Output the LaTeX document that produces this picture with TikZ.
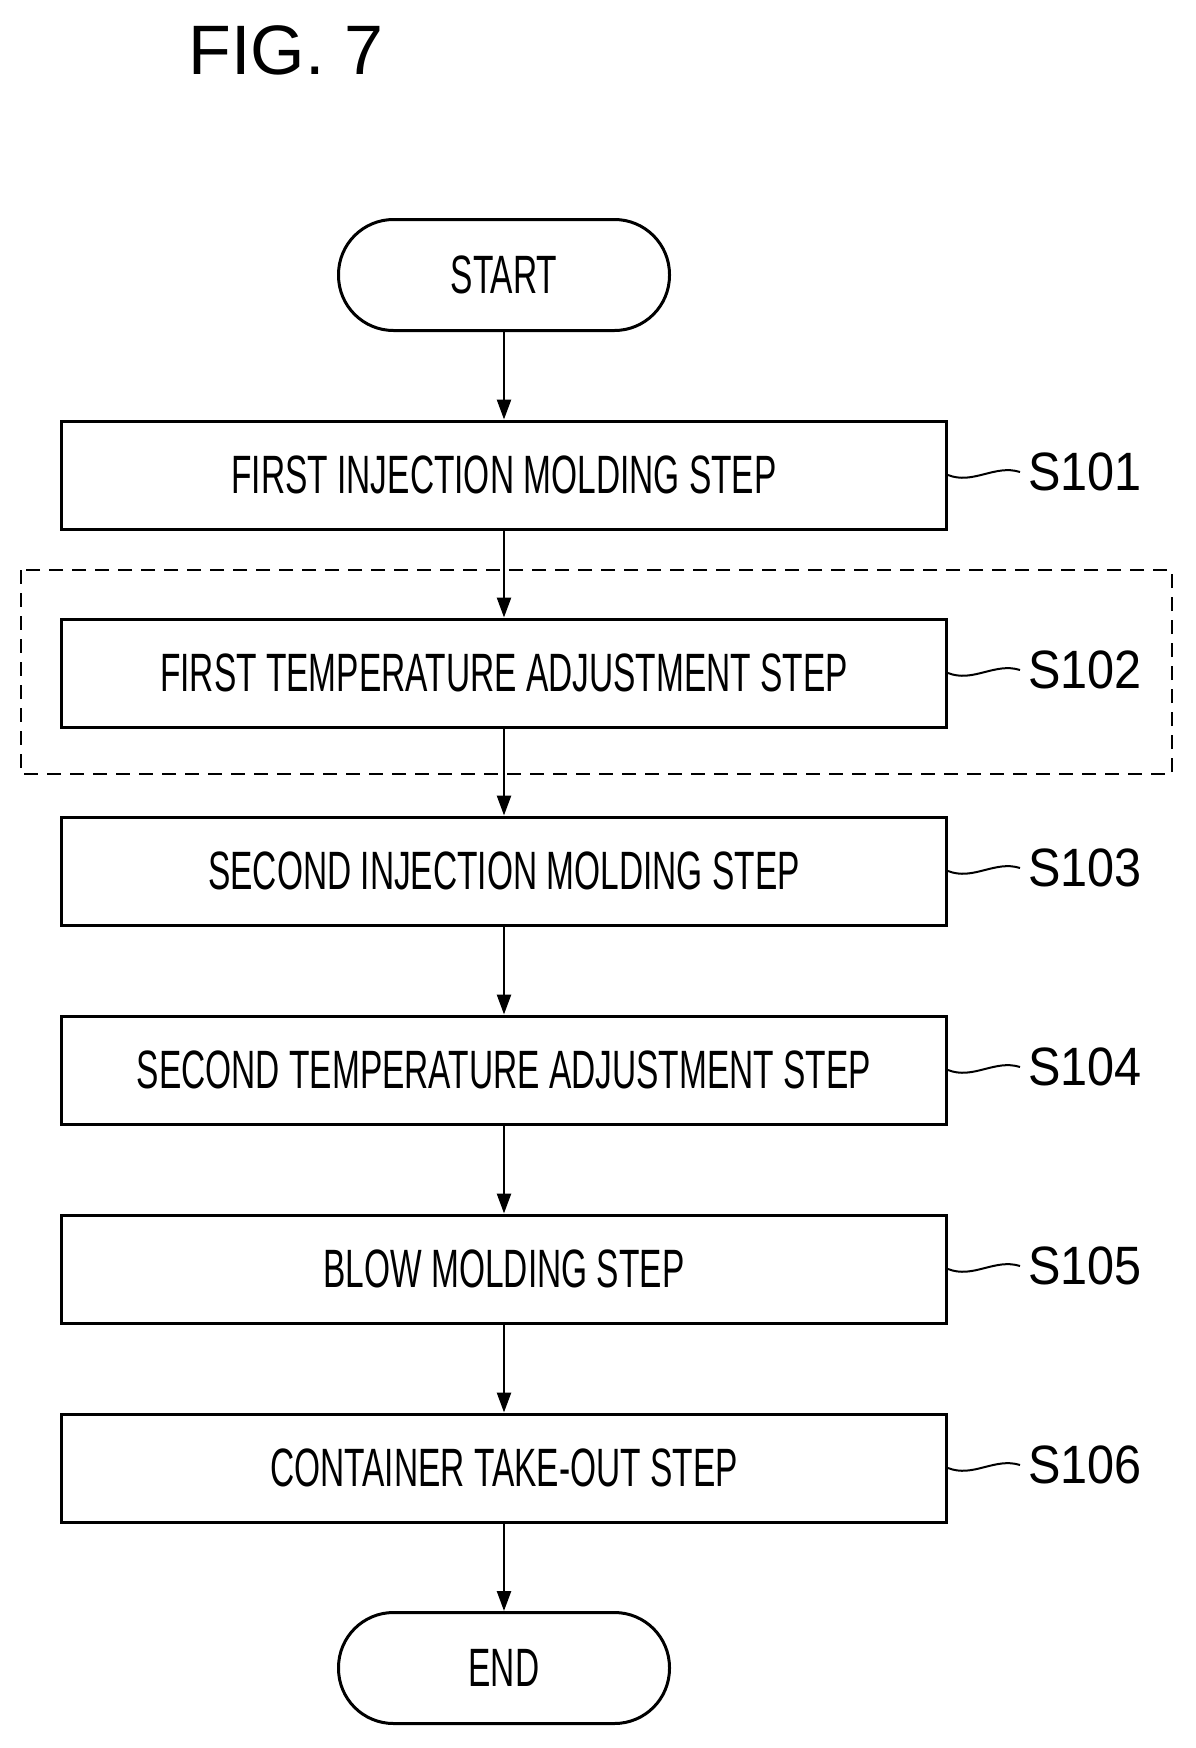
\documentclass[tikz,border=0pt]{standalone}
\usepackage{fontspec}
\setmainfont{Liberation Sans}
\usetikzlibrary{arrows.meta}
\newcommand{\steptext}[1]{\scalebox{0.62}[1]{#1}}
\begin{document}
\begin{tikzpicture}[%
    x = 1pt, y = -1pt,
    stepbox/.style = {rectangle, draw, line width = 3pt, minimum width = 885pt, minimum height = 108pt, inner sep = 0pt, font = \fontsize{54}{54}\selectfont},
    term/.style = {rectangle, rounded corners = 55pt, draw, line width = 3pt, minimum width = 331pt, minimum height = 111pt, inner sep = 0pt, font = \fontsize{54}{54}\selectfont},
    lbl/.style = {anchor = west, inner sep = 0pt, font = \fontsize{54}{54}\selectfont},
    flow/.style = {-{Triangle[length = 20pt, width = 14pt]}, line width = 2.5pt},
    wave/.style = {line width = 2pt}]

    \useasboundingbox (0, 0) rectangle (1195, 1748);

    \node[font = \fontsize{70}{70}\selectfont] (fig) at (286, 50) {FIG. 7};

    \draw[line width = 2pt, dash pattern = on 14pt off 9pt] (21, 570) rectangle (1172, 774);

    \node[term] (start) at (504, 275) {\steptext{START}};
    \node[stepbox] (s1) at (504, 475) {\steptext{FIRST INJECTION MOLDING STEP}};
    \node[stepbox] (s2) at (504, 673) {\steptext{FIRST TEMPERATURE ADJUSTMENT STEP}};
    \node[stepbox] (s3) at (504, 871) {\steptext{SECOND INJECTION MOLDING STEP}};
    \node[stepbox] (s4) at (504, 1070) {\steptext{SECOND TEMPERATURE ADJUSTMENT STEP}};
    \node[stepbox] (s5) at (504, 1269) {\steptext{BLOW MOLDING STEP}};
    \node[stepbox] (s6) at (504, 1468) {\steptext{CONTAINER TAKE-OUT STEP}};
    \node[term] (end) at (504, 1668) {\steptext{END}};

    \draw[flow] (start) -- (s1);
    \draw[flow] (s1) -- (s2);
    \draw[flow] (s2) -- (s3);
    \draw[flow] (s3) -- (s4);
    \draw[flow] (s4) -- (s5);
    \draw[flow] (s5) -- (s6);
    \draw[flow] (s6) -- (end);

    \foreach \s/\n in {s1/S101, s2/S102, s3/S103, s4/S104, s5/S105, s6/S106} {
        \coordinate (\s w) at ([xshift = 72pt, yshift = 3pt]\s.east);
        \draw[wave] (\s.east) .. controls +(25pt, -10pt) and +(-25pt, 8pt) .. (\s w);
        \node[lbl] (\s l) at ([xshift = 8pt]\s w) {\scalebox{0.9}[1]{\n}};
    }
\end{tikzpicture}
\end{document}
